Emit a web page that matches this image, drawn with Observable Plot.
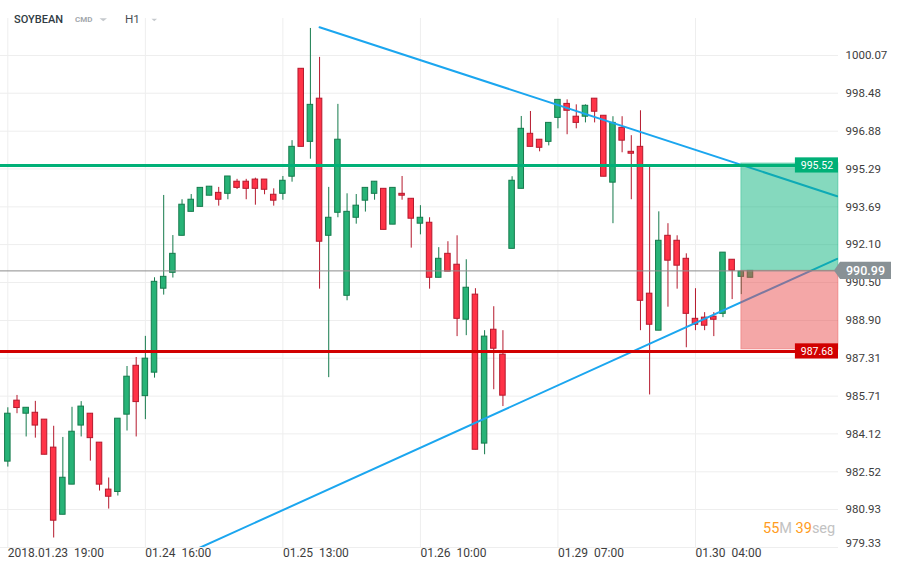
<!DOCTYPE html>
<html><head><meta charset="utf-8">
<script src="https://cdn.jsdelivr.net/npm/d3@7"></script>
<script src="https://cdn.jsdelivr.net/npm/@observablehq/plot@0.6"></script>
<style>
body{margin:0;background:#fff;}
#wrap{position:relative;width:905px;height:573px;}
</style></head><body><div id="wrap"></div>
<script>
// ---- data (H1 candles) ----
const opens  = [982.95,985.52,984.97,985.01,984.72,983.54,980.71,981.98,984.47,984.97,983.75,981.77,981.67,984.93,986.99,985.71,986.70,990.24,990.91,992.47,993.48,993.69,994.16,994.28,994.24,994.75,994.75,994.84,994.84,994.20,994.24,994.96,999.51,996.43,998.25,992.47,993.44,989.94,993.23,993.95,994.24,994.45,992.94,994.24,994.03,992.98,993.02,990.70,991.71,991.25,988.93,989.99,983.71,988.51,987.46,991.92,994.45,996.77,996.52,996.43,997.44,998.03,997.49,997.49,998.25,997.53,994.71,997.02,996.01,996.22,990.03,988.47,992.47,992.26,991.50,988.97,989.02,989.06,989.18,991.46,990.74,990.70];
const highs  = [985.22,985.74,985.22,985.49,984.72,984.44,983.97,985.24,985.48,984.97,983.75,982.26,984.76,986.96,987.34,988.23,990.70,994.17,992.48,993.99,994.21,994.49,994.54,994.51,994.97,994.85,994.85,994.90,994.84,994.45,994.97,996.48,999.51,1001.21,999.99,994.51,998.01,994.24,994.21,994.49,994.75,994.45,994.49,994.97,994.03,993.74,993.23,991.97,992.22,992.47,991.46,990.24,988.47,989.48,988.47,994.96,997.50,997.71,996.52,997.23,998.20,998.20,997.99,997.99,998.25,997.53,997.49,997.49,996.69,997.74,995.35,993.48,992.98,992.47,991.71,990.24,989.23,989.23,991.76,991.46,990.96,991.00];
const lows   = [982.72,984.97,983.99,983.94,983.24,979.73,980.71,981.98,983.99,982.97,981.71,980.95,981.50,984.24,983.99,984.72,986.47,989.97,990.69,992.47,993.48,993.69,994.16,993.72,993.99,994.42,993.99,993.76,994.20,993.72,993.97,994.73,996.22,995.70,990.22,986.49,993.23,989.73,992.96,993.47,993.97,992.72,992.94,993.97,991.95,992.51,990.22,990.70,990.96,988.22,988.26,983.45,983.24,985.98,985.27,991.92,994.45,996.22,996.01,996.26,996.98,996.73,996.98,997.23,997.23,994.96,992.98,995.97,993.99,988.47,985.76,988.47,989.46,990.22,987.75,988.47,988.47,988.22,989.02,989.78,989.99,990.70];
const closes = [984.97,985.21,985.22,984.47,983.24,980.46,982.27,984.21,985.27,983.94,981.98,981.47,984.76,986.53,985.46,987.29,990.53,990.74,991.71,993.78,993.99,994.49,994.54,993.99,994.97,994.49,994.45,994.45,994.41,993.95,994.79,996.22,996.22,997.99,992.22,993.23,996.52,993.48,993.74,994.49,994.75,992.72,994.49,994.16,993.19,993.23,990.70,991.50,990.96,988.97,990.28,983.45,988.22,987.71,985.73,994.79,996.98,996.22,996.18,997.23,998.20,997.74,997.23,997.95,997.70,994.96,997.23,996.48,995.93,989.73,988.72,992.26,991.42,991.21,989.18,988.72,988.68,988.93,991.76,991.00,990.96,990.99];

const xTickIndex  = [0, 15, 30, 45, 60, 75];
const xTickLabels = ["2018.01.23  19:00", "01.24  16:00", "01.25  13:00", "01.26  10:00", "01.29  07:00", "01.30  04:00"];
const yTicks = [1000.07, 998.48, 996.88, 995.29, 993.69, 992.10, 990.50, 988.90, 987.31, 985.71, 984.12, 982.52, 980.93, 979.33];

const levelValues = [995.52, 987.68];
const levelColors = ["#00b077", "#d10000"];
const lastPrice = 990.99;
const zoneStart = 80;

const trendDownX = [34.0, 90.45], trendDownY = [1001.26, 994.14];
const trendUpX   = [20.94, 90.45], trendUpY   = [979.32, 991.50];

const xDomain = [-0.8, 90.6];
const yDomain = [979.33, 1001.63];

// ---- derived tables ----
const candles = opens.map((o, i) => ({i, o, h: highs[i], l: lows[i], c: closes[i], up: closes[i] >= o}));
const trends = [
  ...trendDownX.map((x, k) => ({x, y: trendDownY[k], id: "down"})),
  ...trendUpX.map((x, k) => ({x, y: trendUpY[k], id: "up"}))
];
const zones = [
  {y1: levelValues[0], y2: lastPrice, fill: "#00b077"},
  {y1: lastPrice, y2: levelValues[1], fill: "#e84848"}
];
const levels = levelValues.map((v, k) => ({v, color: levelColors[k]}));
const yTicksMain = yTicks.slice(0, -1), yTickLast = yTicks.slice(-1);

const G_FILL = "#27b377", G_LINE = "#157a4c", R_FILL = "#ff3347", R_LINE = "#b5192d";

const chart = Plot.plot({
  width: 905, height: 573,
  marginLeft: 0, marginRight: 67, marginTop: 18, marginBottom: 26,
  x: {domain: xDomain, axis: null},
  y: {domain: yDomain, axis: null},
  style: {fontFamily: "Roboto, sans-serif", fontSize: "12px", background: "#fff", overflow: "visible"},
  marks: [
    Plot.gridY(yTicks, {stroke: "#eeeeee", strokeOpacity: 1}),
    Plot.gridX(xTickIndex, {stroke: "#eeeeee", strokeOpacity: 1}),
    Plot.ruleX(candles, {x: "i", y1: "l", y2: "h", stroke: d => d.up ? G_LINE : R_LINE, strokeWidth: 1}),
    Plot.rect(candles, {
      x1: d => d.i - 0.3, x2: d => d.i + 0.3,
      y1: d => Math.min(d.o, d.c), y2: d => Math.max(d.o, d.c),
      fill: d => d.up ? G_FILL : R_FILL, stroke: d => d.up ? G_LINE : R_LINE, strokeWidth: 1
    }),
    Plot.line(trends, {x: "x", y: "y", z: "id", stroke: "#1ba6ef", strokeWidth: 2, clip: true}),
    Plot.rect(zones, {x1: zoneStart, x2: xDomain[1], y1: "y1", y2: "y2", fill: "fill", fillOpacity: 0.48, stroke: "fill", strokeOpacity: 0.35}),
    Plot.ruleY([lastPrice], {stroke: "#8c8c8c", strokeWidth: 1}),
    Plot.ruleY(levels, {y: "v", stroke: "color", strokeWidth: 3, dy: 2}),
    Plot.rect(levels, {x1: 85.9, x2: xDomain[1], y1: d => d.v - 0.32, y2: d => d.v + 0.32, fill: "color", dy: 2}),
    Plot.text(levels, {x: (xDomain[1] + 85.9) / 2, y: "v", text: d => d.v.toFixed(2), fill: "#fff", fontSize: 10.5, dy: 2}),
    Plot.text(yTicksMain, {y: d => d, frameAnchor: "right", dx: 7, textAnchor: "start", text: d => d.toFixed(2), fill: "#3d3d3d", fontSize: 11.5}),
    Plot.text(yTickLast, {y: d => d, frameAnchor: "right", dx: 7, dy: -4, textAnchor: "start", text: d => d.toFixed(2), fill: "#3d3d3d", fontSize: 11.5}),
    Plot.text(xTickIndex, {x: d => d, frameAnchor: "bottom", dy: 9, textAnchor: "start", text: (d, k) => xTickLabels[k].replace(/ /g, "\u00a0"), fill: "#3d3d3d", fontSize: 12})
  ]
});

document.getElementById("wrap").appendChild(chart);

// ---- overlays: last price tag, header and timer ----
const svg = d3.select(chart);
let yP;
try { yP = chart.scale("y").apply(lastPrice); } catch (e) { yP = d3.scaleLinear().domain(yDomain).range([547, 18])(lastPrice); }
const tag = svg.append("g").attr("text-anchor", "start");
tag.append("path")
  .attr("d", `M834,${yP} L840,${yP - 8.7} L891,${yP - 8.7} L891,${yP + 8.7} L840,${yP + 8.7} Z`)
  .attr("fill", "#889195");
tag.append("text").attr("x", 846).attr("y", yP).attr("dy", "0.36em")
  .attr("fill", "#fff").attr("font-size", 12.5).attr("font-weight", 500).text(lastPrice.toFixed(2));

const hdr = svg.append("g").attr("text-anchor", "start");
hdr.append("text").attr("x", 14).attr("y", 23).attr("font-size", 11).attr("font-weight", 500).attr("fill", "#313b44").text("SOYBEAN");
hdr.append("text").attr("x", 75).attr("y", 21.7).attr("font-size", 8).attr("font-weight", 700).attr("fill", "#a3a8ad").text("CMD");
hdr.append("path").attr("d", "M99.5,18.3 L107,18.3 L103.25,21.3 Z").attr("fill", "#c5c9cd");
hdr.append("text").attr("x", 125).attr("y", 23.3).attr("font-size", 11.7).attr("fill", "#4a4f55").text("H1");
hdr.append("path").attr("d", "M151.5,18.8 L157,18.8 L154.25,21.3 Z").attr("fill", "#c5c9cd");

const timer = svg.append("text").attr("text-anchor", "start").attr("x", 763).attr("y", 533).attr("font-size", 14.5);
timer.append("tspan").attr("fill", "#ff9c22").text("55");
timer.append("tspan").attr("fill", "#c2c2c2").text("M ");
timer.append("tspan").attr("fill", "#ff9c22").text("39");
timer.append("tspan").attr("fill", "#c2c2c2").text("seg");
</script>
</body></html>
